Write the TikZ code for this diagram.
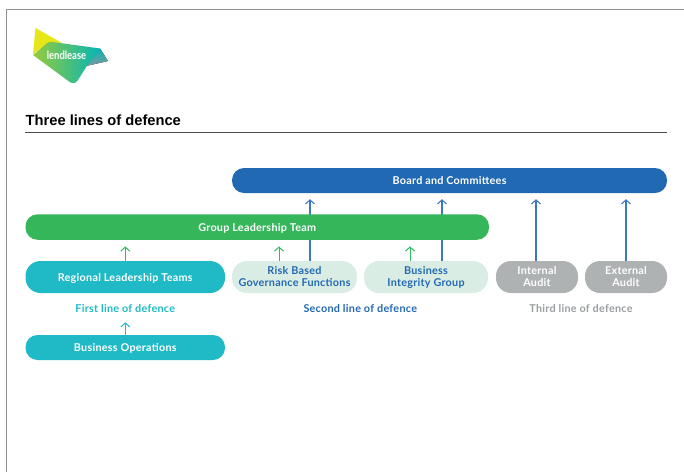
\documentclass[tikz,border=0pt]{standalone}
\usepackage{fontspec}
\setmainfont[LetterSpace=2.5]{Lato}
\newfontfamily\titlefont{Liberation Sans}
\newfontfamily\logofont{Lato}
\usetikzlibrary{arrows.meta}
\definecolor{boardblue}{HTML}{2269B3}
\definecolor{groupgreen}{HTML}{36B65B}
\definecolor{firstteal}{HTML}{1FBAC5}
\definecolor{palegreen}{HTML}{DAEDE4}
\definecolor{auditgrey}{HTML}{AEB2B3}
\definecolor{labelgrey}{HTML}{9A9EA0}
\definecolor{frameline}{HTML}{8E8E8E}
\definecolor{arrowblue}{HTML}{3C78C0}
\definecolor{arrowgreen}{HTML}{2CBB5E}
\definecolor{logoyellow}{HTML}{E6E619}
\definecolor{logoleft}{HTML}{96CB3C}
\definecolor{logomid}{HTML}{3DB97A}
\definecolor{logoright}{HTML}{05B5B5}
\definecolor{logotail}{HTML}{7F9AA0}
\newcommand{\BoxT}[1]{\fontsize{10.8}{12}\selectfont\bfseries #1}
\begin{document}
\begin{tikzpicture}[x=1pt,y=-1pt]
          \tikzstyle{boxs} = [inner sep=0pt, align=center, font=\BoxT, text=white, text depth=0pt]
          \tikzstyle{boxsB} = [boxs, fill=boardblue, minimum height=25pt, rounded corners=12pt]
          \tikzstyle{boxsG} = [boxs, fill=groupgreen, minimum height=25.5pt, minimum width=463.5pt, rounded corners=12pt]
          \tikzstyle{boxsT} = [boxs, fill=firstteal, minimum width=199.5pt]
          \tikzstyle{boxsP} = [boxs, fill=palegreen, text=boardblue, minimum height=32pt, rounded corners=15pt, text depth=2pt]
          \tikzstyle{boxsA} = [boxs, fill=auditgrey, minimum height=32pt, minimum width=82pt, rounded corners=15pt, text depth=2pt]
          \tikzstyle{caption} = [inner sep=0pt, font=\BoxT]
          \tikzstyle{line} = [draw,-{Straight Barb[length=4pt,width=9pt]},line width=1pt]
          \tikzstyle{lineB} = [line,arrowblue,line width=1.1pt,shorten >=6pt]
          \tikzstyle{lineG} = [line,arrowgreen,shorten >=6.5pt]
          \tikzstyle{lineT} = [line,firstteal]

          \useasboundingbox (0,0) rectangle (684,472);
          \draw[frameline,line width=0.9pt] (6.5,472) -- (6.5,9.5) -- (684,9.5);

          % logo
          \fill[logoyellow] (35.5,28) -- (62,43) -- (48,43) -- (33,54) -- cycle;
          \fill[top color=logoright, bottom color=logotail] (100,48.5) -- (108,61) -- (86,66) -- cycle;
          \shade[left color=logoleft, middle color=logomid, right color=logoright]
            (33,55) [rounded corners=3pt] -- (49,41.5) [sharp corners] -- (100,48.5) -- (86.5,66.5) [rounded corners=6pt] -- (74.5,85.5) [sharp corners] -- cycle;
          \node(Lendlease)[inner sep=0pt, text=white, font=\logofont\fontsize{11.5}{12}\selectfont\bfseries] at (66.5,55.5) {\scalebox{0.82}[1]{lendlease}};

          \node(Title)[anchor=base west, inner sep=0pt, font=\titlefont\fontsize{14.7}{16}\selectfont\bfseries] at (25.5,125) {Three lines of defence};
          \draw[black!70,line width=0.9pt] (25,132.5) -- (667,132.5);

          \node(Board)[boxsB, minimum width=435pt] at (449.5,180.5) {Board and Committees};

          \node(Regional)[boxsT, minimum height=32pt, rounded corners=15pt] at (125.25,277) {Regional Leadership Teams};
          \tikzset{node distance = 70.5pt}
          \node(Operations)[boxsT, minimum height=25pt, rounded corners=12pt, below of = Regional] {Business Operations};
          \tikzset{node distance = 31.5pt}
          \node(FirstLine)[caption, text=firstteal, below of = Regional] {First line of defence};

          \tikzset{node distance = 169.25pt}
          \node(Risk)[boxsP, minimum width=125pt, right of = Regional] {Risk Based\\Governance Functions};
          \tikzset{node distance = 131.5pt}
          \node(Integrity)[boxsP, minimum width=124pt, right of = Risk] {Business\\Integrity Group};
          \tikzset{node distance = 111pt}
          \node(Internal)[boxsA, right of = Integrity] {Internal\\Audit};
          \tikzset{node distance = 89pt}
          \node(External)[boxsA, right of = Internal] {External\\Audit};

          \node(SecondLine)[caption, text=boardblue] at (360.25,308.5) {Second line of defence};
          \node(ThirdLine)[caption, text=labelgrey] at (581,308.5) {Third line of defence};

          % blue ones run behind the green bar
          \draw[lineB] ([xshift=15.5pt]Risk.north) -- ([xshift=15.5pt]Risk.north |- Board.south);
          \draw[lineB] ([xshift=16pt]Integrity.north) -- ([xshift=16pt]Integrity.north |- Board.south);
          \draw[lineB] ([xshift=-1pt]Internal.north) -- ([xshift=-1pt]Internal.north |- Board.south);
          \draw[lineB] (External.north) -- (External.north |- Board.south);

          \node(Group)[boxsG] at (257.25,227) {Group Leadership Team};

          \draw[lineG] (Regional.north) -- (Regional.north |- Group.south);
          \draw[lineG] ([xshift=-15.5pt]Risk.north) -- ([xshift=-15.5pt]Risk.north |- Group.south);
          \draw[lineG] ([xshift=-16pt]Integrity.north) -- ([xshift=-16pt]Integrity.north |- Group.south);
          \draw[lineT] (Operations.north) -- ([yshift=12.5pt]Operations.north);
\end{tikzpicture}
\end{document}
